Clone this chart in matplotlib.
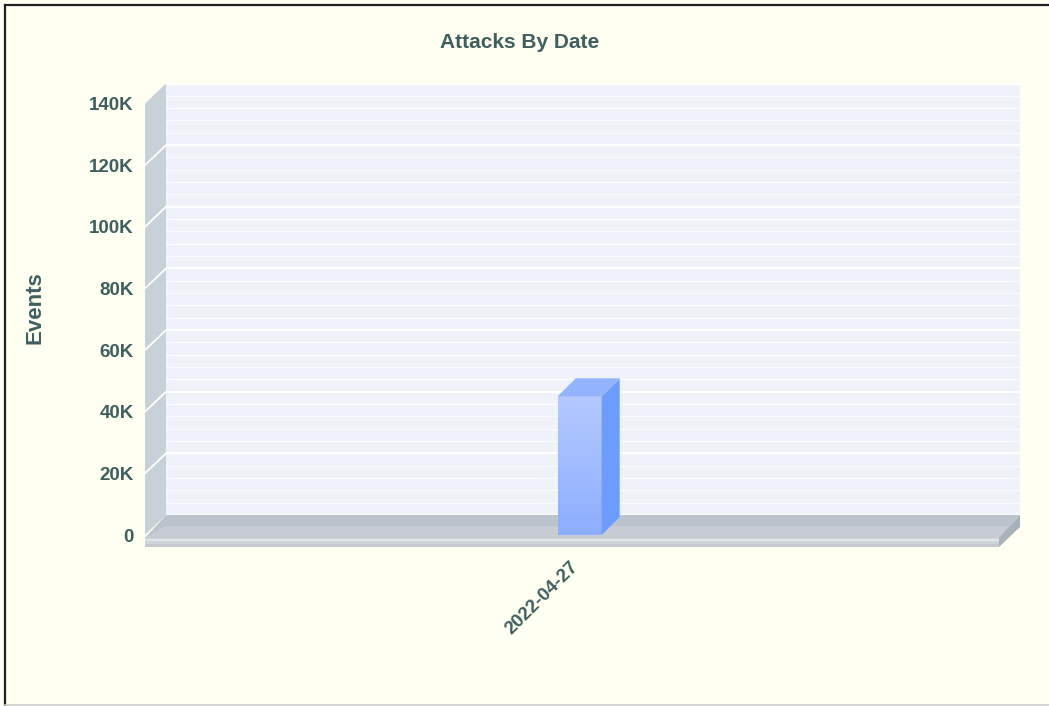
import numpy as np
import matplotlib
matplotlib.use("Agg")
import matplotlib.pyplot as plt
from matplotlib.patches import Polygon
from matplotlib.transforms import IdentityTransform
from matplotlib.lines import Line2D

# data
dates = ["2022-04-27"]
events = [45000]
y_ticks = [0, 20000, 40000, 60000, 80000, 100000, 120000, 140000]
y_tick_labels = ["0", "20K", "40K", "60K", "80K", "100K", "120K", "140K"]

TXT = "#3f5f5f"
BG = "#fffff2"
DX, DY = 21, 20          # depth of the walls, pixels
BDX, BDY = 18, 18        # depth of the bar
SLAB = 12                # floor thickness, pixels

plt.rcParams['font.family'] = ['Liberation Sans', 'DejaVu Sans']

fig = plt.figure(figsize=(10.49, 7.06), dpi=100, facecolor=BG)
ax = fig.add_axes([145 / 1049, 171 / 706, 854 / 1049, 431.5 / 706])
ax.set_facecolor("none")
for s in ax.spines.values():
    s.set_visible(False)

x = np.arange(len(dates))
ax.set_xlim(-0.509, len(dates) - 0.509)
ax.set_ylim(0, 140000)
x0, x1 = ax.get_xlim()
y0, y1 = ax.get_ylim()


def disp(px, py, ox=0, oy=0):
    p = ax.transData.transform((px, py))
    return (p[0] + ox, p[1] + oy)


def poly(pts, color, z):
    ax.add_patch(Polygon(pts, closed=True, facecolor=color, edgecolor="none",
                         transform=IdentityTransform(), clip_on=False, zorder=z))


# back wall
poly([disp(x0, y0, DX, DY), disp(x1, y0, DX, DY), disp(x1, y1, DX, DY), disp(x0, y1, DX, DY)],
     "#eff3f9", 0.5)
# minor / major gridlines on the back wall and left wall
for v in np.arange(0, 140001, 4000):
    a = disp(x0, v, DX, DY)
    b = disp(x1, v, DX, DY)
    major = v % 20000 == 0
    ax.add_line(Line2D([a[0], b[0]], [a[1], b[1]], color="white",
                       lw=1.6 if major else 1.0, alpha=1.0 if major else 0.75,
                       transform=IdentityTransform(), clip_on=False, zorder=0.6))
# left wall
poly([disp(x0, y0), disp(x0, y0, DX, DY), disp(x0, y1, DX, DY), disp(x0, y1)], "#c9d1d8", 0.7)
for v in y_ticks[1:-1]:
    a = disp(x0, v)
    b = disp(x0, v, DX, DY)
    ax.add_line(Line2D([a[0], b[0]], [a[1], b[1]], color="white", lw=1.3,
                       transform=IdentityTransform(), clip_on=False, zorder=0.8))

# floor slab
poly([disp(x0, y0, 0, -SLAB / 4), disp(x1, y0, 0, -SLAB / 4), disp(x1, y0, DX, DY), disp(x0, y0, DX, DY)],
     "#bcc4cb", 0.9)
poly([disp(x0, y0, 0, -SLAB / 4), disp(x1, y0, 0, -SLAB / 4), disp(x1, y0, DX, DY * 0.45), disp(x0, y0, DX, DY * 0.45)],
     "#c6ccd2", 0.91)
poly([disp(x0, y0, 0, -SLAB), disp(x1, y0, 0, -SLAB), disp(x1, y0, 0, -SLAB / 4), disp(x0, y0, 0, -SLAB / 4)],
     "#d0d5da", 0.92)
poly([disp(x0, y0, 0, -SLAB / 4 - 1), disp(x1, y0, 0, -SLAB / 4 - 1), disp(x1, y0, 0, -SLAB / 4 - 3), disp(x0, y0, 0, -SLAB / 4 - 3)],
     "#e2e5e9", 0.93)
poly([disp(x0, y0, 0, -SLAB), disp(x1, y0, 0, -SLAB), disp(x1, y0, 0, -SLAB + 3), disp(x0, y0, 0, -SLAB + 3)],
     "#c2c8ce", 0.93)
poly([disp(x1, y0, 0, -SLAB), disp(x1, y0, DX, DY - SLAB), disp(x1, y0, DX, DY), disp(x1, y0, 0, -SLAB / 4)],
     "#a7b1b9", 0.94)

# bars
bw = 44 / 854
grad = np.linspace(0, 1, 256).reshape(-1, 1)
cmap = matplotlib.colors.LinearSegmentedColormap.from_list("bar", ["#b4c9ff", "#8daeff"])
for xi, val in zip(x, events):
    l, r = xi - bw / 2, xi + bw / 2
    ax.imshow(grad, cmap=cmap, extent=(l, r, 0, val), aspect="auto", origin="upper",
              zorder=2, interpolation="bilinear")
    poly([disp(r, 0), disp(r, 0, BDX, BDY), disp(r, val, BDX, BDY), disp(r, val)], "#6c9cff", 2.1)
    poly([disp(l, val), disp(r, val), disp(r, val, BDX, BDY), disp(l, val, BDX, BDY)], "#93b3ff", 2.1)

ax.set_xlim(x0, x1)
ax.set_ylim(y0, y1)

ax.set_yticks(y_ticks)
ax.set_yticklabels(y_tick_labels)
ax.tick_params(axis="y", length=0, pad=8, labelsize=13.5, labelcolor=TXT)
for t in ax.get_yticklabels():
    t.set_fontweight("bold")
ax.set_xticks([])
for xi, d in zip(x, dates):
    ax.annotate(d, xy=(xi, 0), xycoords=("data", "axes fraction"), xytext=(-10, -23),
                textcoords="offset pixels", rotation=45, ha="right", va="top",
                rotation_mode="anchor", fontsize=13.5, fontweight="bold", color=TXT)

ax.set_ylabel("Events", fontsize=16, fontweight="bold", color=TXT)
ax.yaxis.set_label_coords(-0.116, 0.528)
fig.text(520 / 1049, 1 - 42 / 706, "Attacks By Date", ha="center", va="center",
         fontsize=15, fontweight="bold", color=TXT)

# outer frame
fig.add_artist(Line2D([5 / 1049, 5 / 1049], [0, 1 - 5 / 706], color="#222222", lw=1.6,
                      transform=fig.transFigure))
fig.add_artist(Line2D([5 / 1049, 1], [1 - 5 / 706, 1 - 5 / 706], color="#222222", lw=1.6,
                      transform=fig.transFigure))
fig.add_artist(Line2D([5 / 1049, 1], [1.5 / 706, 1.5 / 706], color="#cccccc", lw=1.2,
                      transform=fig.transFigure))

fig.savefig("out.png", dpi=100, facecolor=BG)
